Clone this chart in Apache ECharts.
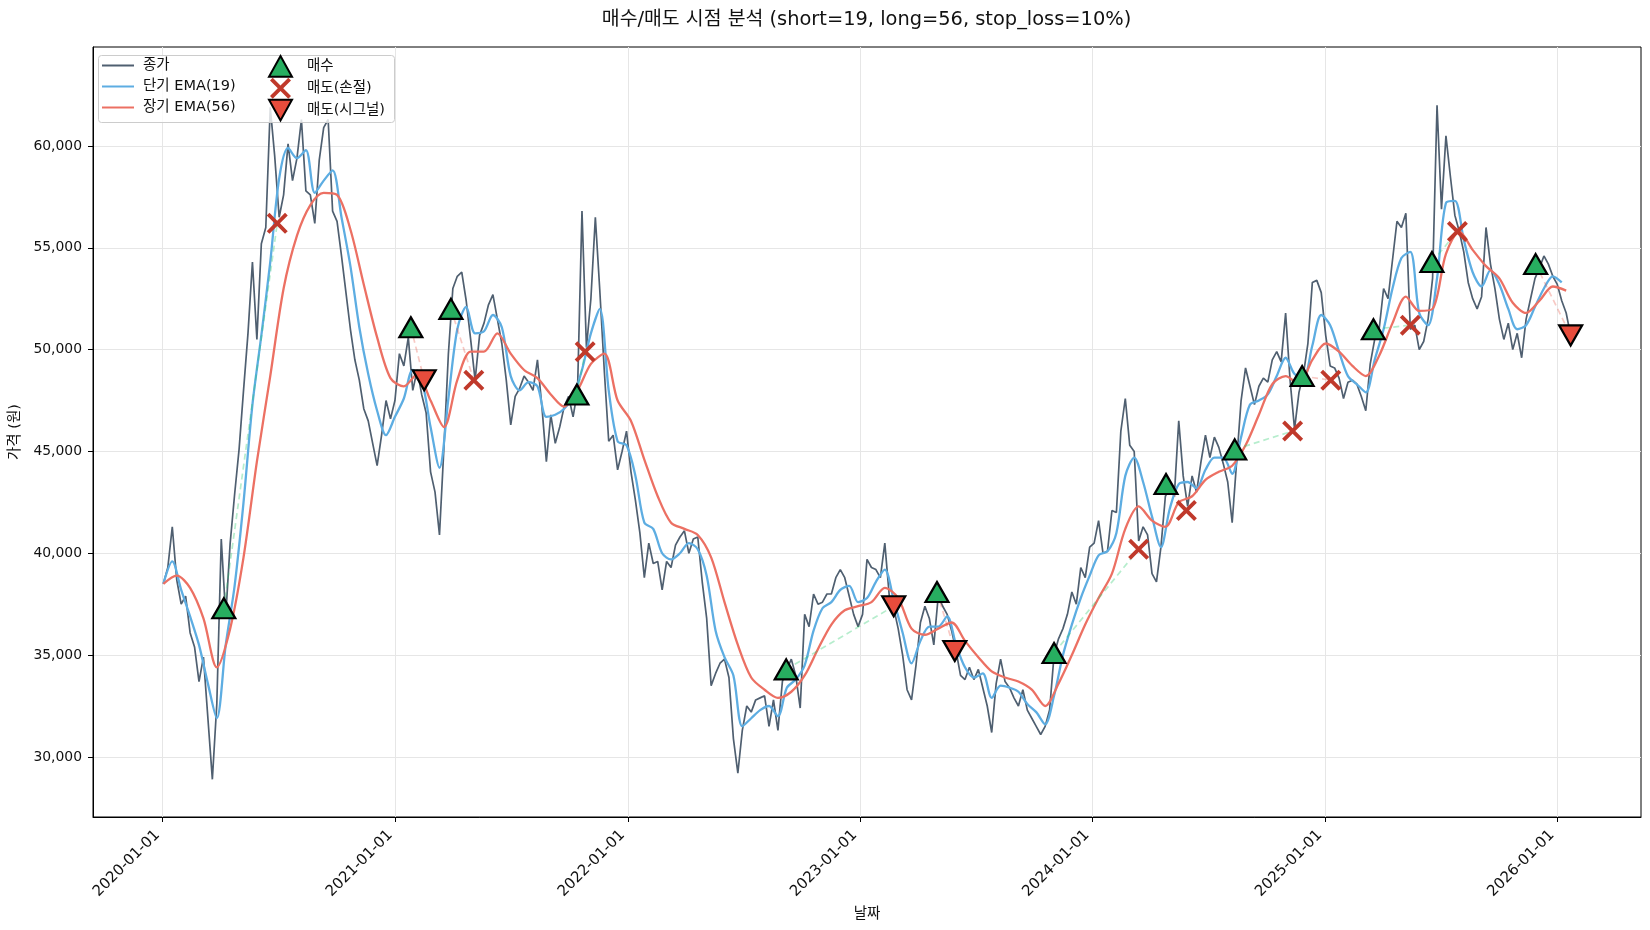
<!DOCTYPE html>
<html>
<head>
<meta charset="utf-8">
<script src="https://cdn.jsdelivr.net/npm/echarts@6/dist/echarts.min.js"></script>
<style>
html,body{margin:0;padding:0;background:#ffffff;}
#chart{width:1650px;height:930px;}
</style>
</head>
<body>
<div id="chart"></div>
<script>
// ---------------- DATA ----------------
const closeStart = '2020-01-02';   // weekly samples of the closing price
const closeStepDays = 7;
const close2020 = [38500,39300,41300,38700,37500,37900,36100,35400,33700,34900,
  31900,28900,32600,40700,36900,40500,42900,45100,48000,50800,
  54300,50500,55200,56000,61900,59500,56500,57600,60100,58300,
  59400,61300,57800,57600,56200,59300,60900,61300,56800,56300,
  54600,52800,51000,49500,48500,47100,46500,45400,44300,45800,
  47500,46600,47500];
const close2021 = [49800,49200,50600,48000,49000,47800,46900,44000,43000,40900,
  45200,49800,53000,53600,53800,52400,50500,48500,50700,51300,
  52200,52700,51500,50300,48500,46300,47700,48100,48700,48400,
  48000,49500,47200,44500,46800,45400,46200,47200,47700,46700,
  48000,56800,50100,52500,56500,52900,49000,45500,45800,44100,
  45000,46000];
const close2022 = [44000,42600,41000,38800,40500,39500,39600,38200,39600,39300,
  40400,40800,41100,40000,40700,40800,38600,36800,33500,34100,
  34600,34800,33900,30900,29200,31300,32500,32200,32800,32900,
  33000,31500,32800,31300,33700,34300,34800,34000,32400,37000,
  36400,38000,37500,37600,38000,38000,38800,39200,38800,37900,
  37000,36400];
const close2023 = [37000,39700,39300,39200,38800,40500,37900,37300,36300,35000,
  33300,32800,34500,36600,37400,36800,35500,37900,37400,37000,
  36200,35200,34000,33800,34400,33800,34300,33400,32500,31200,
  33600,34800,33700,33400,32900,32500,33300,32300,31900,31500,
  31100,31500,32300,35000,35800,36300,37000,38100,37500,39300,
  38800,40300];
const close2024 = [40500,41600,40000,40100,42100,42000,46000,47600,45300,45000,
  40600,41300,40900,39000,38600,40300,42800,43200,42800,46500,
  43800,42300,43800,43000,44500,45800,44700,45700,45200,44400,
  43500,41500,44500,47500,49100,48200,47300,48200,48600,48400,
  49500,49900,49400,51800,48500,46100,47900,48800,50300,53300,
  53400,52800,50700];
const close2025 = [49200,49100,48600,47600,48400,48500,48300,47700,47000,49300,
  50500,51000,53000,52500,54400,56300,56000,56700,51000,51200,
  50000,50400,51500,53500,62000,56900,60500,58500,56600,55800,
  54800,53300,52500,52000,52600,56000,54200,53000,51500,50500,
  51300,50000,50800,49600,51500,52500,53500,54000,54600,54200,
  53600,53200,52400,51800,50700];

const emaShortStepDays = 14;       // short EMA(19), read every two weeks
const emaShort = [38500,39600,38200,36900,35500,33600,31900,35500,38400,42500,
  47300,50700,54300,58400,59900,59400,59800,57700,58300,58800,
  56500,54100,51100,48800,47000,45800,46700,47600,49000,48500,
  46200,44200,47600,51000,52100,50800,50900,51700,51100,48700,
  48000,48400,48200,46700,46800,47100,47700,49000,50800,52000,
  48000,45500,45300,43800,41500,41200,40000,39700,40000,40500,
  40200,38900,36200,34900,34000,31500,31900,32300,32500,32000,
  33400,33800,34500,36200,37300,37600,38200,38400,37600,37800,
  38600,39200,37700,36100,34600,35700,36400,36400,36900,35500,
  34400,33900,34100,32900,33500,33400,33200,32600,32200,31600,
  33000,35000,36500,37800,38900,39900,40100,41000,43800,44700,
  43500,41800,40300,42200,43400,43500,43200,44100,44700,44700,
  43900,45700,47300,47500,47800,48700,49600,48800,48600,50200,
  51700,51200,49900,48700,48300,47900,49500,51000,53000,54500,
  54800,51800,51200,53500,57200,57300,55400,53800,53100,53900,
  53200,52000,51000,51200,52100,53000,53600,53300];

const emaLongStepDays = 21;        // long EMA(56), read every three weeks
const emaLong = [38500,38900,38300,36800,34400,36300,39800,44500,48700,53000,
  55600,57100,57700,57600,55900,53200,50600,48600,48200,48800,
  47500,46200,48500,49900,49900,50800,49800,49000,48600,47800,
  47200,48000,49300,49800,47500,46500,44600,42800,41500,41200,
  40900,39800,37600,35500,33900,33300,32900,33200,34000,35300,
  36500,37200,37400,37600,38300,37800,36300,36000,36300,36600,
  35700,34900,34200,33900,33700,33300,32500,33600,35000,36500,
  37800,39000,41200,42300,41600,41300,42500,42800,43600,44000,
  44300,45300,46800,48300,48700,48300,49500,50300,49900,49200,
  48700,49700,51300,52600,51900,52000,54700,55800,54900,54100,
  53500,52300,51800,52400,53100,52900];

const buyDates  = ['2020-04-06','2021-01-25','2021-03-29','2021-10-13','2022-09-07','2023-05-02',
  '2023-11-02','2024-04-26','2024-08-12','2024-11-26','2025-03-18','2025-06-18','2025-11-28'];
const buyPrices = [37300,51100,52000,47800,34300,38100,35100,43400,45100,48700,51000,54300,54200];

const stopDates  = ['2020-06-29','2021-05-04','2021-10-26','2024-03-14','2024-05-28','2024-11-11',
  '2025-01-10','2025-05-15','2025-07-28'];
const stopPrices = [56200,48500,49900,40200,42100,46000,48500,51200,55800];

const signalDates  = ['2021-02-15','2023-02-23','2023-05-30','2026-01-22'];
const signalPrices = [48500,37400,35200,50700];

const xTickLabels = ['2020-01-01','2021-01-01','2022-01-01','2023-01-01','2024-01-01','2025-01-01','2026-01-01'];
const yTickValues = [30000,35000,40000,45000,50000,55000,60000];
const yMin = 27050, yMax = 64860;

const titleText = '매수/매도 시점 분석 (short=19, long=56, stop_loss=10%)';
const names = {close:'종가', short:'단기 EMA(19)', long:'장기 EMA(56)', buy:'매수', stop:'매도(손절)', signal:'매도(시그널)'};

// ---------------- helpers ----------------
function parseDay(s){ const p = s.split('-').map(Number); return Date.UTC(p[0], p[1]-1, p[2]); }
function fmtDay(t){ const d = new Date(t); const m = d.getUTCMonth()+1, dd = d.getUTCDate();
  return d.getUTCFullYear() + '-' + (m<10?'0':'') + m + '-' + (dd<10?'0':'') + dd; }
function stepSeries(start, stepDays, values){
  const p = start.split('-').map(Number);
  return values.map((v,i)=>[Date.UTC(p[0], p[1]-1, p[2] + i*stepDays), v]);
}
const closeValues = [].concat(close2020, close2021, close2022, close2023, close2024, close2025);
const closeData = stepSeries(closeStart, closeStepDays, closeValues);
const shortData = stepSeries(closeStart, emaShortStepDays, emaShort);
const longData = stepSeries(closeStart, emaLongStepDays, emaLong);
const buyData = buyDates.map((d,i)=>[parseDay(d), buyPrices[i]]);
const stopData = stopDates.map((d,i)=>[parseDay(d), stopPrices[i]]);
const signalData = signalDates.map((d,i)=>[parseDay(d), signalPrices[i]]);

// x range like matplotlib: 5% margins around the data extent
const allT = closeData.map(d=>d[0]).concat(buyData.map(d=>d[0]), stopData.map(d=>d[0]), signalData.map(d=>d[0]));
const tMin = Math.min.apply(null, allT), tMax = Math.max.apply(null, allT);
const span = tMax - tMin;
const xMin = tMin - 0.05*span, xMax = tMax + 0.05*span;
const xTicks = xTickLabels.map(parseDay);

// trades: pair each buy with the next exit
const exits = stopData.concat(signalData).sort((a,b)=>a[0]-b[0]);
const tradeSeries = buyData.map((b,i)=>{
  const e = exits[i];
  const win = e[1] >= b[1];
  return {
    type:'line', data:[b, e], symbol:'none', silent:true, z:4,
    lineStyle:{type:[6,4], width:1.7, color: win ? 'rgba(46,204,113,0.35)' : 'rgba(231,76,60,0.3)'}
  };
});

const FONT = '"DejaVu Sans", "Noto Sans CJK KR", sans-serif';
const triUp = 'path://M10,0 L20,18 L0,18 Z';
const triDown = 'path://M0,0 L20,0 L10,18 Z';
const xMark = 'path://M0,2.6 L2.6,0 L10,7.4 L17.4,0 L20,2.6 L12.6,10 L20,17.4 L17.4,20 L10,12.6 L2.6,20 L0,17.4 L7.4,10 Z';

const GRID = {left:92, right:9, top:47, bottom:113};
const W = 1650;
const plotCenterX = GRID.left + (W - GRID.left - GRID.right) / 2;

const chart = echarts.init(document.getElementById('chart'), null, {renderer:'canvas'});
chart.setOption({
  animation:false,
  backgroundColor:'#ffffff',
  textStyle:{fontFamily:FONT},
  title:{text:titleText, left:plotCenterX, textAlign:'center', top:10, padding:0,
    textStyle:{fontSize:19.4, fontWeight:'normal', color:'#111', fontFamily:FONT}},
  grid:{left:GRID.left, right:GRID.right, top:GRID.top, bottom:GRID.bottom, show:true, borderColor:'#000', borderWidth:1, backgroundColor:'transparent'},
  legend:[
    {orient:'vertical', left:102, top:57, padding:0, itemWidth:32, itemHeight:2, itemGap:4, z:12,
      textStyle:{fontSize:14.5, lineHeight:17, color:'#111', fontFamily:FONT, padding:[0,0,0,4]},
      data:[{name:names.close, icon:'rect'},{name:names.short, icon:'rect'},{name:names.long, icon:'rect'}]},
    {orient:'vertical', left:268, top:55, padding:0, itemWidth:23, itemHeight:21, itemGap:0, z:12,
      textStyle:{fontSize:14.5, lineHeight:17, color:'#111', fontFamily:FONT, padding:[0,0,0,10]},
      data:[{name:names.buy, icon:triUp},{name:names.stop, icon:xMark},{name:names.signal, icon:triDown}]}
  ],
  graphic:[{type:'rect', z:11, left:98, top:55, shape:{width:296, height:67, r:3},
    style:{fill:'rgba(255,255,255,0.8)', stroke:'#cccccc', lineWidth:1}}],
  xAxis:{
    type:'value', min:xMin, max:xMax, scale:true,
    name:'날짜', nameLocation:'middle', nameGap:87,
    nameTextStyle:{fontSize:14.5, color:'#111', fontFamily:FONT},
    axisLine:{show:true, onZero:false, lineStyle:{color:'#000', width:1}},
    axisTick:{show:true, length:5, lineStyle:{color:'#000'}, customValues:xTicks},
    axisLabel:{customValues:xTicks, rotate:45, fontSize:15, color:'#111', margin:21, fontFamily:FONT,
      verticalAlign:'bottom', formatter:(v)=>fmtDay(v)},
    splitLine:{show:true, lineStyle:{color:'#e6e6e6', width:1}}
  },
  yAxis:{
    type:'value', min:yMin, max:yMax,
    name:'가격 (원)', nameLocation:'middle', nameGap:70,
    nameTextStyle:{fontSize:14.5, color:'#111', fontFamily:FONT},
    axisLine:{show:true, lineStyle:{color:'#000', width:1}},
    axisTick:{show:true, length:5, lineStyle:{color:'#000'}, customValues:yTickValues},
    axisLabel:{customValues:yTickValues, fontSize:13.9, color:'#111', margin:11, fontFamily:FONT,
      formatter:(v)=>Number(v).toLocaleString('en-US')},
    splitLine:{show:true, lineStyle:{color:'#e6e6e6', width:1}}
  },
  series:[
    {name:names.close, type:'line', data:closeData, showSymbol:false, symbol:'none', z:2,
      lineStyle:{color:'#4f5f70', width:1.7}, itemStyle:{color:'#4f5f70'}},
    {name:names.short, type:'line', data:shortData, showSymbol:false, symbol:'none', smooth:0.3, z:3,
      lineStyle:{color:'#5dade2', width:2.3}, itemStyle:{color:'#5dade2'}},
    {name:names.long, type:'line', data:longData, showSymbol:false, symbol:'none', smooth:0.3, z:3,
      lineStyle:{color:'#ec7063', width:2.3}, itemStyle:{color:'#ec7063'}},
    ...tradeSeries,
    {name:names.buy, type:'scatter', data:buyData, symbol:triUp, symbolSize:[23,20], z:6,
      itemStyle:{color:'#27ae60', borderColor:'#000', borderWidth:2.2, opacity:1}},
    {name:names.stop, type:'scatter', data:stopData, symbol:xMark, symbolSize:[21,21], z:6,
      itemStyle:{color:'#c0392b', opacity:1}},
    {name:names.signal, type:'scatter', data:signalData, symbol:triDown, symbolSize:[23,20], z:6,
      itemStyle:{color:'#e74c3c', borderColor:'#000', borderWidth:2.2, opacity:1}}
  ]
});
</script>
</body>
</html>
